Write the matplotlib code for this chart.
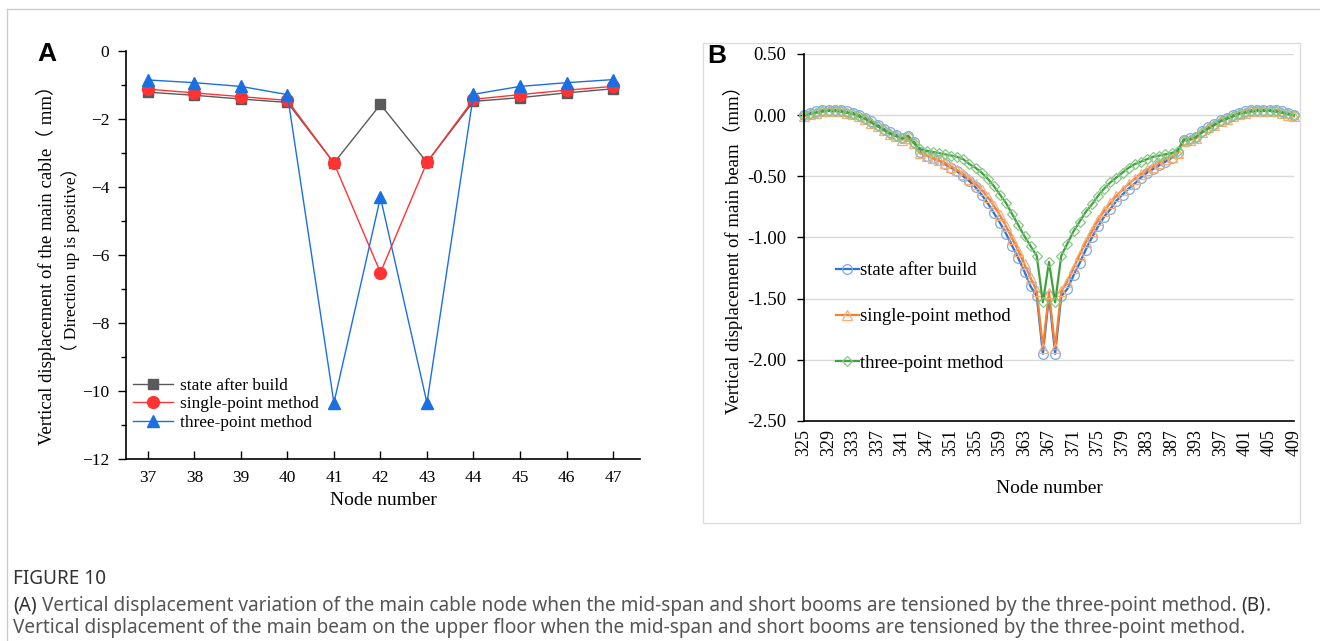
import matplotlib
matplotlib.use('Agg')
import matplotlib.pyplot as plt
from matplotlib.ticker import MultipleLocator, FormatStrFormatter
from matplotlib.patches import Rectangle

# ---- panel A data ----
nodes_a = [37, 38, 39, 40, 41, 42, 43, 44, 45, 46, 47]
after_build_a = [-1.22, -1.31, -1.42, -1.52, -3.30, -1.58, -3.28, -1.49, -1.38, -1.24, -1.12]
single_a = [-1.13, -1.24, -1.35, -1.46, -3.30, -6.52, -3.28, -1.43, -1.29, -1.16, -1.05]
three_a = [-0.86, -0.94, -1.05, -1.29, -10.35, -4.31, -10.35, -1.28, -1.05, -0.94, -0.85]

# ---- panel B data ----
nodes_b = list(range(325, 343)) + list(range(345, 389)) + list(range(391, 410))
after_build_b = [
    0.00, 0.02, 0.03, 0.04, 0.045, 0.045, 0.04, 0.03, 0.02, 0.00,
    -0.02, -0.05, -0.08, -0.11, -0.14, -0.16, -0.19, -0.17, -0.22, -0.30,
    -0.33, -0.35, -0.37, -0.40, -0.43, -0.46, -0.50, -0.54, -0.59, -0.65,
    -0.72, -0.80, -0.88, -0.97, -1.07, -1.17, -1.28, -1.40, -1.48, -1.95,
    -1.48, -1.95, -1.48, -1.42, -1.31, -1.21, -1.10, -1.00, -0.91, -0.83,
    -0.77, -0.70, -0.65, -0.60, -0.56, -0.51, -0.47, -0.44, -0.41, -0.38,
    -0.35, -0.31, -0.20, -0.19, -0.18, -0.13, -0.10, -0.07, -0.04, -0.02,
    0.00, 0.02, 0.03, 0.04, 0.045, 0.045, 0.045, 0.04, 0.03, 0.015,
    0.00]
single_b = [
    -0.01, 0.01, 0.02, 0.03, 0.035, 0.035, 0.03, 0.02, 0.01, -0.01,
    -0.03, -0.06, -0.09, -0.12, -0.15, -0.17, -0.20, -0.19, -0.23, -0.31,
    -0.33, -0.35, -0.37, -0.39, -0.42, -0.45, -0.48, -0.52, -0.56, -0.61,
    -0.67, -0.74, -0.82, -0.91, -1.01, -1.11, -1.22, -1.33, -1.44, -1.90,
    -1.45, -1.90, -1.44, -1.36, -1.25, -1.14, -1.04, -0.95, -0.86, -0.78,
    -0.72, -0.66, -0.61, -0.56, -0.52, -0.48, -0.45, -0.42, -0.39, -0.36,
    -0.34, -0.31, -0.21, -0.20, -0.19, -0.14, -0.10, -0.08, -0.05, -0.03,
    -0.01, 0.01, 0.02, 0.03, 0.035, 0.035, 0.035, 0.03, 0.02, 0.005,
    -0.01]
three_b = [
    0.00, 0.01, 0.02, 0.03, 0.035, 0.035, 0.03, 0.02, 0.01, -0.01,
    -0.03, -0.06, -0.09, -0.12, -0.15, -0.17, -0.19, -0.17, -0.23, -0.28,
    -0.29, -0.30, -0.31, -0.32, -0.33, -0.34, -0.36, -0.40, -0.43, -0.47,
    -0.52, -0.58, -0.65, -0.72, -0.81, -0.90, -0.99, -1.07, -1.15, -1.53,
    -1.20, -1.53, -1.15, -1.05, -0.95, -0.87, -0.79, -0.73, -0.66, -0.60,
    -0.55, -0.51, -0.47, -0.43, -0.40, -0.38, -0.36, -0.34, -0.33, -0.32,
    -0.31, -0.29, -0.20, -0.20, -0.18, -0.14, -0.11, -0.08, -0.05, -0.03,
    -0.01, 0.01, 0.02, 0.03, 0.035, 0.035, 0.035, 0.03, 0.02, 0.01,
    0.00]

legend_labels = ['state after build', 'single-point method', 'three-point method']

W, H = 1320, 641
plt.rcParams['font.family'] = ['Liberation Serif', 'Noto Sans CJK SC', 'DejaVu Sans']

fig = plt.figure(figsize=(W / 100, H / 100), dpi=100)


def box(left, top, right, bottom):
    return [left / W, 1 - bottom / H, (right - left) / W, (bottom - top) / H]


# page frame, panel B frame, caption (pixel coordinates)
bg = fig.add_axes([0, 0, 1, 1], zorder=-1)
bg.set_xlim(0, W)
bg.set_ylim(H, 0)
bg.axis('off')
bg.plot([7, 7], [9, H], color='#cccccc', lw=1)
bg.plot([7, W], [9, 9], color='#cccccc', lw=1)
bg.add_patch(Rectangle((703, 43), 597, 480, fill=False, ec='#dcdcdc', lw=1))

cap_font = 'Noto Sans'
cap_size = 13.7
bg.text(13, 584, 'FIGURE 10', fontsize=cap_size, family=cap_font, color='#333333',
        fontweight='semibold', va='baseline')
t1 = bg.text(13, 611, '(A)', fontsize=cap_size, family=cap_font, color='#333333',
             fontweight='bold', va='baseline')
t2 = bg.annotate(' Vertical displacement variation of the main cable node when the mid-span and '
                 'short booms are tensioned by the three-point method. ',
                 xy=(1, 0), xycoords=t1, va='bottom', fontsize=cap_size, family=cap_font,
                 color='#555555')
t3 = bg.annotate('(B)', xy=(1, 0), xycoords=t2, va='bottom', fontsize=cap_size,
                 family=cap_font, color='#333333', fontweight='bold')
bg.annotate('.', xy=(1, 0), xycoords=t3, va='bottom', fontsize=cap_size, family=cap_font,
            color='#555555')
bg.text(13, 633, 'Vertical displacement of the main beam on the upper floor when the mid-span '
        'and short booms are tensioned by the three-point method.',
        fontsize=cap_size, family=cap_font, color='#555555', va='baseline')

# ---- panel A ----
axA = fig.add_axes(box(126, 50.7, 640, 459))
axA.plot(nodes_a, after_build_a, color='#5a5a5a', lw=1, marker='s', ms=6.5,
         label=legend_labels[0], clip_on=False)
axA.plot(nodes_a, single_a, color='#ff3333', lw=1, marker='o', ms=8.5,
         label=legend_labels[1], clip_on=False)
axA.plot(nodes_a, three_a, color='#1a6fe3', lw=1, marker='^', ms=9,
         label=legend_labels[2], clip_on=False)
axA.set_xlim(36.53, 47.58)
axA.set_ylim(-12, 0)
axA.set_xticks(nodes_a)
axA.yaxis.set_major_locator(MultipleLocator(2))
axA.yaxis.set_minor_locator(MultipleLocator(1))
axA.tick_params(axis='x', direction='in', length=6, width=1, labelsize=12.5, pad=8)
axA.tick_params(axis='y', which='major', direction='out', length=6, width=1, labelsize=12.5,
                pad=6)
axA.tick_params(axis='y', which='minor', direction='out', length=3.5, width=1)
for s in ['top', 'right']:
    axA.spines[s].set_visible(False)
for s in ['left', 'bottom']:
    axA.spines[s].set_linewidth(1.2)
axA.set_xlabel('Node number', fontsize=14, labelpad=4)
axA.legend(loc='lower left', bbox_to_anchor=(133 / W, 1 - 431 / H),
           bbox_transform=fig.transFigure, frameon=False, fontsize=12.4,
           handlelength=2.3, handletextpad=0.4, labelspacing=0.15, borderpad=0,
           borderaxespad=0)
fig.text(46 / W, 1 - 261 / H, 'Vertical displacement of the main cable（ mm）',
         rotation=90, ha='center', va='center', fontsize=13.5)
fig.text(71 / W, 1 - 260 / H, '（ Direction up is positive）',
         rotation=90, ha='center', va='center', fontsize=12.5)
fig.text(37 / W, 1 - 42 / H, 'A', family='Liberation Sans', fontweight='bold',
         fontsize=19, va='top', ha='left')

# ---- panel B ----
axB = fig.add_axes(box(804, 54, 1294, 421))
idx = list(range(len(nodes_b)))
axB.plot(idx, after_build_b, color='#2a72d4', lw=1.6, marker='o', ms=7, mfc='none',
         mec='#7fa9e6', mew=0.9, label=legend_labels[0], clip_on=False)
axB.plot(idx, single_b, color='#f5812f', lw=1.6, marker='^', ms=6.5, mfc='none',
         mec='#f8ac78', mew=0.9, label=legend_labels[1], clip_on=False)
axB.plot(idx, three_b, color='#3ea33e', lw=1.6, marker='D', ms=5, mfc='none',
         mec='#86c886', mew=0.9, label=legend_labels[2], clip_on=False)
axB.set_xlim(0, len(nodes_b) - 1)
axB.set_ylim(-2.5, 0.5)
axB.set_xticks(idx[::4])
axB.set_xticklabels([str(n) for n in nodes_b[::4]], rotation=90)
axB.yaxis.set_major_locator(MultipleLocator(0.5))
axB.yaxis.set_major_formatter(FormatStrFormatter('%.2f'))
axB.grid(axis='y', color='#d9d9d9', lw=1)
axB.set_axisbelow(True)
axB.tick_params(axis='y', direction='out', length=5, width=1, labelsize=13.5, pad=8)
axB.tick_params(axis='x', direction='out', length=0, labelsize=13, pad=6)
for s in ['top', 'right']:
    axB.spines[s].set_visible(False)
for s in ['left', 'bottom']:
    axB.spines[s].set_linewidth(1.2)
axB.set_xlabel('Node number', fontsize=14, labelpad=17)
axB.legend(loc='upper left', bbox_to_anchor=(836 / W, 1 - 262 / H),
           bbox_transform=fig.transFigure, frameon=False, fontsize=13.5,
           handlelength=1.2, handletextpad=0.1, labelspacing=1.55, borderpad=0,
           borderaxespad=0)
fig.text(733 / W, 1 - 245 / H, 'Vertical displacement of main beam（mm）',
         rotation=90, ha='center', va='center', fontsize=13.5)
fig.text(707 / W, 1 - 44 / H, 'B', family='Liberation Sans', fontweight='bold',
         fontsize=19, va='top', ha='left')

fig.savefig('out.png', dpi=100)
